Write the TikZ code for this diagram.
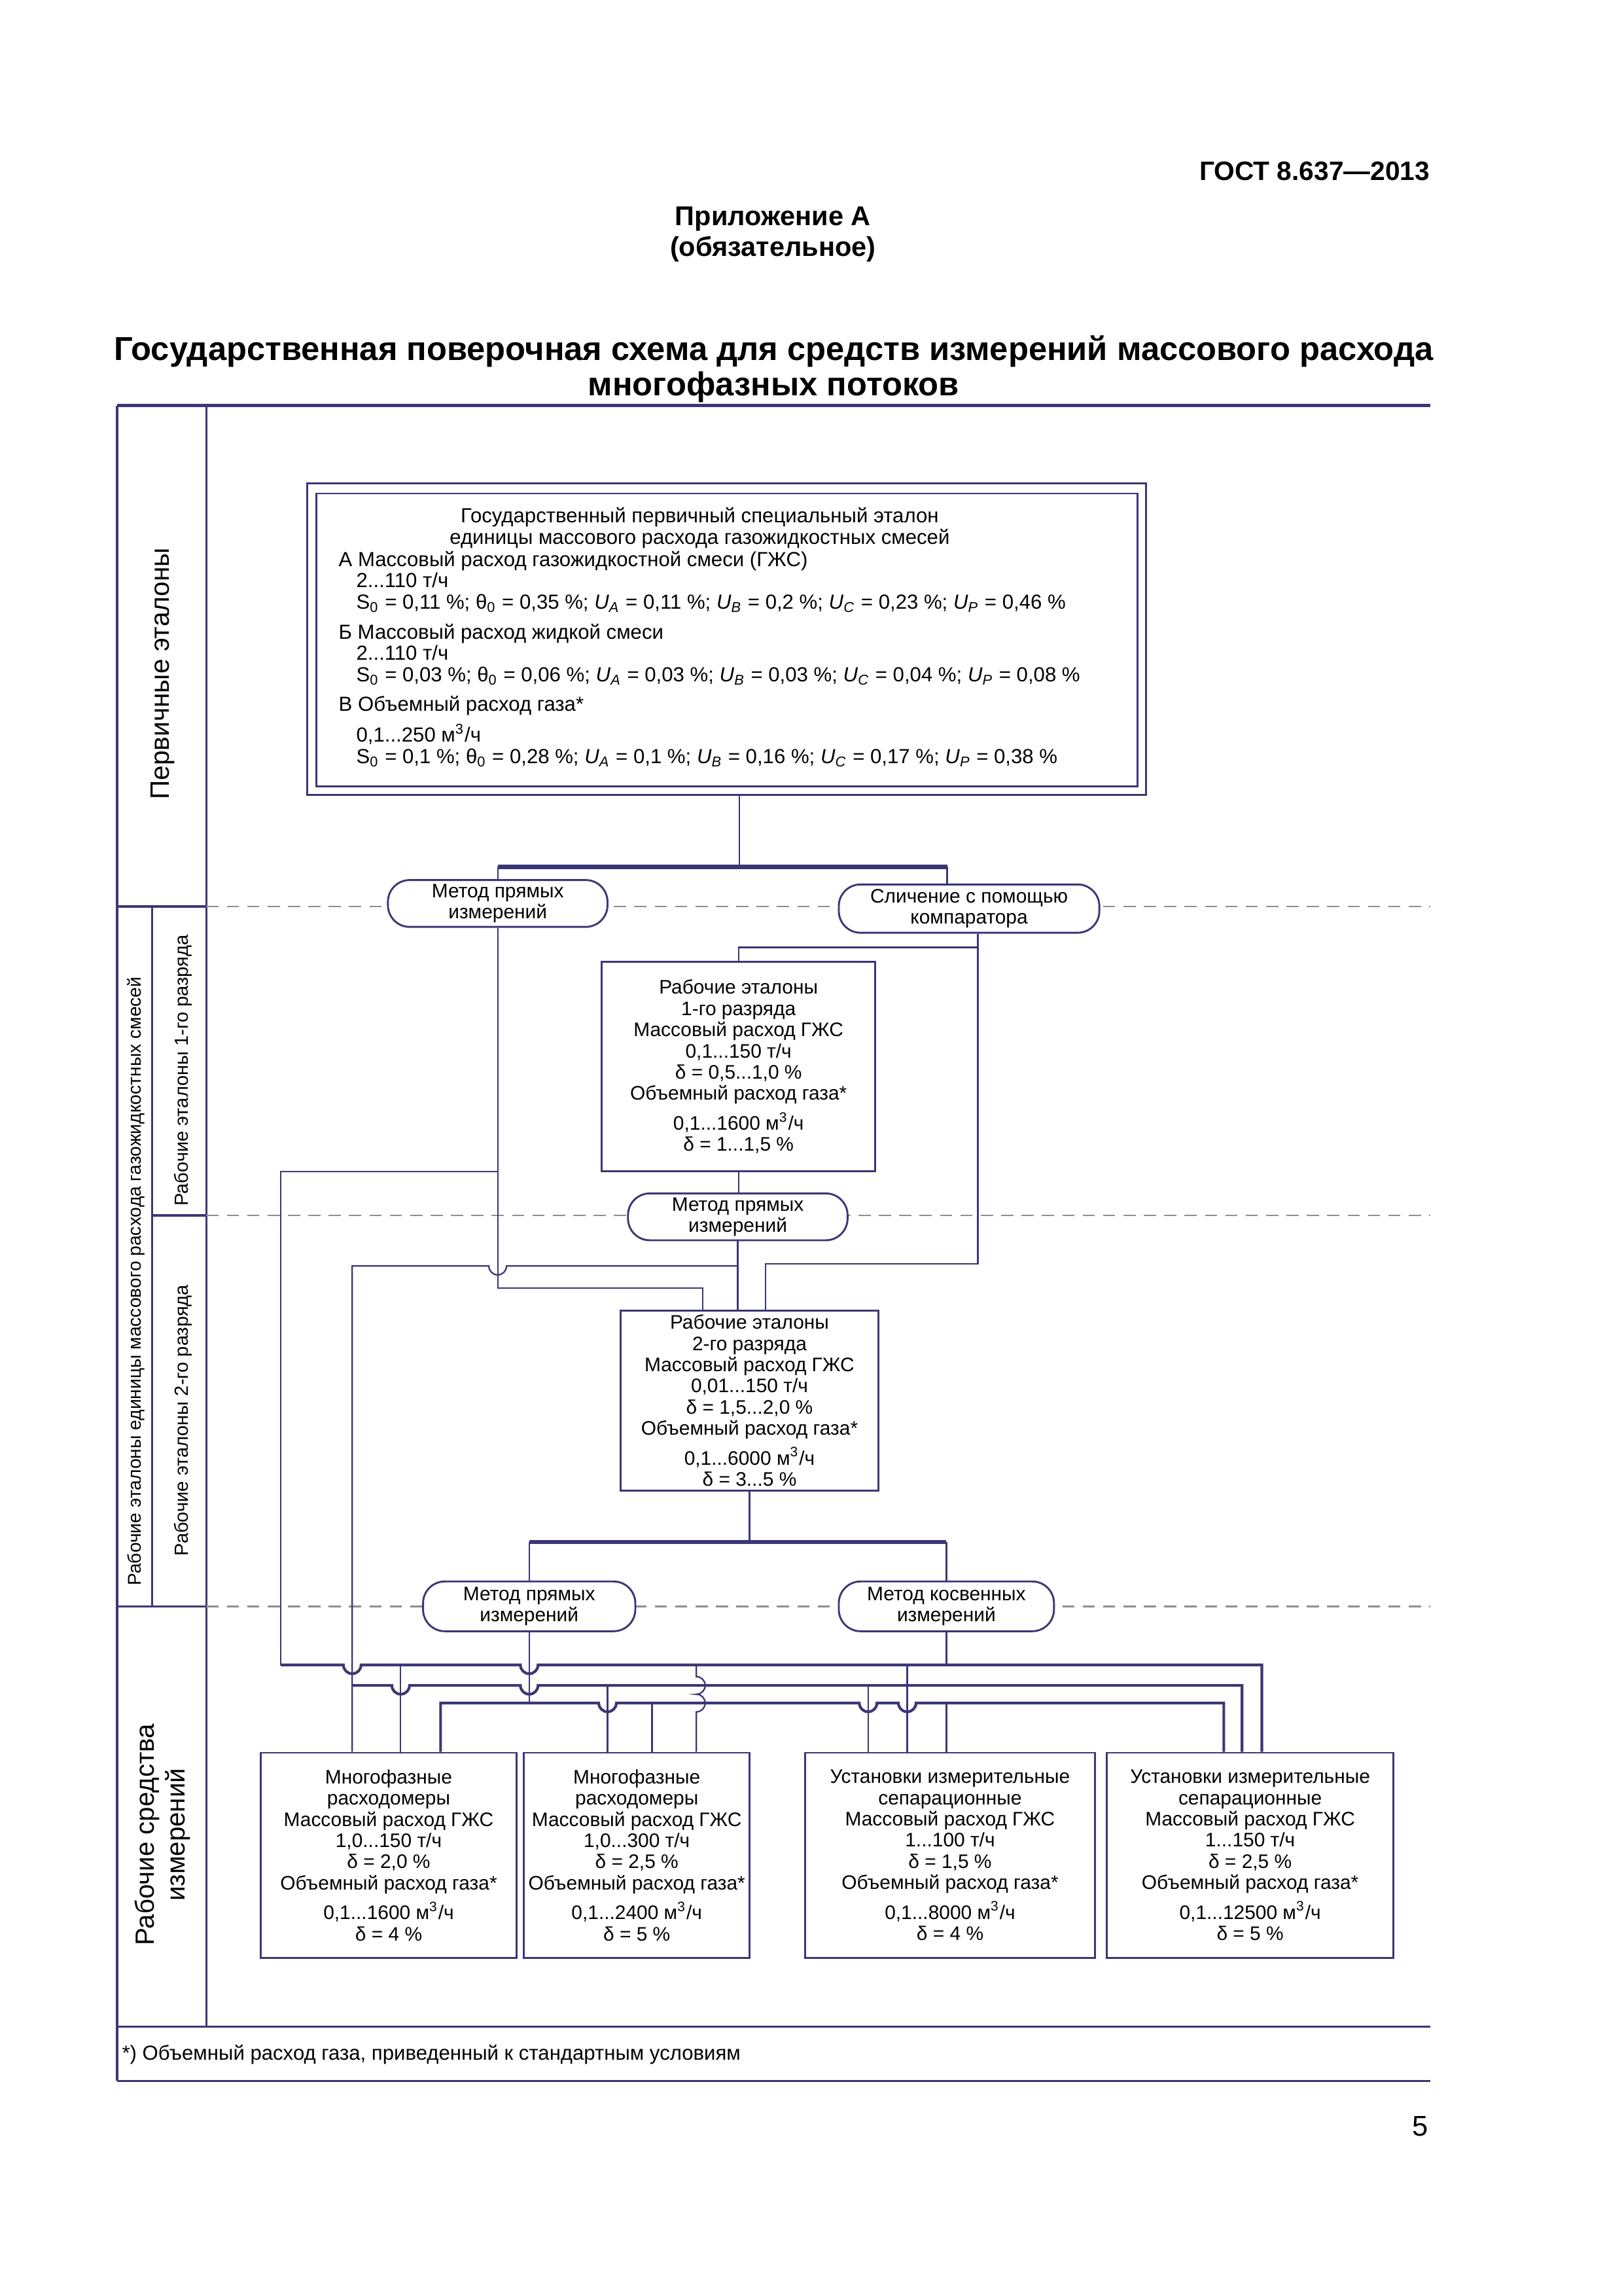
\documentclass[tikz,border=0pt]{standalone}
\usepackage{fontspec}
\setmainfont{Liberation Sans}
\usepackage{xcolor}

\definecolor{lineNavy}{HTML}{3B3776}
\definecolor{dashGray}{HTML}{8E8E8E}

\newcommand{\unc}[1]{\textit{U}\textsubscript{\textit{#1}}}
\newcommand{\mcub}{м\textsuperscript{3}/ч}
\newcommand{\jr}{0.114cm}

\tikzset{
  sz/.style 2 args={minimum width={#1*0.01894cm}, minimum height={#2*0.01894cm}},
  stdbox/.style={draw=lineNavy, line width=0.7pt, fill=white, inner sep=0pt, align=center,
                 font=\fontsize{7.2}{7.8}\selectfont},
  method/.style={draw=lineNavy, line width=0.7pt, fill=white, inner sep=0pt, align=center,
                 rounded corners=8pt, font=\fontsize{7.2}{7.8}\selectfont},
  conn/.style={draw=lineNavy, line width=0.55pt},
  bus/.style={draw=lineNavy, line width=1pt},
  bar/.style={draw=lineNavy, line width=1.5pt},
  level/.style={draw=dashGray, line width=0.6pt, dash pattern=on 4.5pt off 3pt},
  frame/.style={draw=lineNavy, line width=0.8pt},
  sidelabel/.style={rotate=90, align=center, inner sep=0pt},
}

\begin{document}
\begin{tikzpicture}[x=0.01894cm, y=-0.01894cm]
\useasboundingbox (0,0) rectangle (1109,1568);

% page head
\node[anchor=east, inner sep=0pt, font=\bfseries\fontsize{9.8}{12}\selectfont] (gost) at (977,117) {ГОСТ 8.637—2013};
\node[align=center, font=\bfseries\fontsize{10}{11.3}\selectfont] (annex) at (528,160) {Приложение А\\(обязательное)};
\node[align=center, font=\bfseries\fontsize{12.2}{12.9}\selectfont] (title) at (528.5,252)
  {Государственная поверочная схема для средств измерений массового расхода\\многофазных потоков};

% table frame
\draw[frame, line width=1.1pt] (80,277) -- (977,277);
\draw[frame] (80,277) -- (80,1421);
\draw[frame] (141,277) -- (141,1384);
\draw[frame] (104,619) -- (104,1097);
\draw[frame] (80,619) -- (141,619);
\draw[frame] (104,830) -- (141,830);
\draw[frame] (80,1097) -- (141,1097);
\draw[frame] (80,1384) -- (977,1384);
\draw[frame] (80,1421) -- (977,1421);
\draw[level] (141,619) -- (977,619);
\draw[level] (141,830) -- (977,830);
\draw[level] (141,1097) -- (977,1097);

% side labels
\node[sidelabel, font=\fontsize{9.8}{12}\selectfont] (lPrim) at (111,460) {Первичные эталоны};
\node[sidelabel, font=\fontsize{6.8}{8}\selectfont] (lWork) at (93,875) {Рабочие эталоны единицы массового расхода газожидкостных смесей};
\node[sidelabel, font=\fontsize{7}{8}\selectfont] (lFirst) at (125,731) {Рабочие эталоны 1-го разряда};
\node[sidelabel, font=\fontsize{7}{8}\selectfont] (lSecond) at (125,970) {Рабочие эталоны 2-го разряда};
\node[sidelabel, font=\fontsize{9.7}{11.5}\selectfont] (lMeans) at (111,1253) {Рабочие средства\\измерений};

% primary standard
\node[stdbox, sz={573}{213}] (prim) at (496.5,436.5) {};
\node[stdbox, sz={561}{200}] (primIn) at (496.5,437) {};
\node[align=center, font=\fontsize{7.5}{7.9}\selectfont] (primHead) at (478,360.5)
  {Государственный первичный специальный эталон\\единицы массового расхода газожидкостных смесей};
\node[anchor=north west, align=left, inner sep=0pt, font=\fontsize{7.5}{7.9}\selectfont] (primBody) at (231,376)
  {А Массовый расход газожидкостной смеси (ГЖС)\\
   \hspace*{6.5pt}2...110 т/ч\\
   \hspace*{6.5pt}S\textsubscript{0} = 0,11 \%; θ\textsubscript{0} = 0,35 \%; \unc{A} = 0,11 \%; \unc{B} = 0,2 \%; \unc{C} = 0,23 \%; \unc{P} = 0,46 \%\\[3pt]
   Б Массовый расход жидкой смеси\\
   \hspace*{6.5pt}2...110 т/ч\\
   \hspace*{6.5pt}S\textsubscript{0} = 0,03 \%; θ\textsubscript{0} = 0,06 \%; \unc{A} = 0,03 \%; \unc{B} = 0,03 \%; \unc{C} = 0,04 \%; \unc{P} = 0,08 \%\\[3pt]
   В Объемный расход газа*\\[2pt]
   \hspace*{6.5pt}0,1...250 \mcub\\
   \hspace*{6.5pt}S\textsubscript{0} = 0,1 \%; θ\textsubscript{0} = 0,28 \%; \unc{A} = 0,1 \%; \unc{B} = 0,16 \%; \unc{C} = 0,17 \%; \unc{P} = 0,38 \%};

% methods and working standards
\node[method, sz={150}{32}] (cmpA) at (340,617) {Метод прямых\\измерений};
\node[method, sz={178}{33}] (cmpB) at (662,620.5) {Сличение с помощью\\компаратора};
\node[stdbox, sz={187}{143}] (wsA) at (504.5,728.5) {Рабочие эталоны\\1-го разряда\\Массовый расход ГЖС\\0,1...150 т/ч\\δ = 0,5...1,0 \%\\Объемный расход газа*\\[2pt]0,1...1600 \mcub\\δ = 1...1,5 \%};
\node[method, sz={150}{32}] (dirB) at (504,831) {Метод прямых\\измерений};
\node[stdbox, sz={176}{123}] (wsB) at (512,956.5) {Рабочие эталоны\\2-го разряда\\Массовый расход ГЖС\\0,01...150 т/ч\\δ = 1,5...2,0 \%\\Объемный расход газа*\\[2pt]0,1...6000 \mcub\\δ = 3...5 \%};
\node[method, sz={145}{34}] (dirC) at (361.5,1097) {Метод прямых\\измерений};
\node[method, sz={147}{34}] (indC) at (646.5,1097) {Метод косвенных\\измерений};

% working measuring instruments
\node[stdbox, sz={175}{140}] (mfA) at (265.5,1267) {Многофазные\\расходомеры\\Массовый расход ГЖС\\1,0...150 т/ч\\δ = 2,0 \%\\Объемный расход газа*\\[2pt]0,1...1600 \mcub\\δ = 4 \%};
\node[stdbox, sz={154}{140}] (mfB) at (435,1267) {Многофазные\\расходомеры\\Массовый расход ГЖС\\1,0...300 т/ч\\δ = 2,5 \%\\Объемный расход газа*\\[2pt]0,1...2400 \mcub\\δ = 5 \%};
\node[stdbox, sz={198}{140}] (sepA) at (649,1267) {Установки измерительные\\сепарационные\\Массовый расход ГЖС\\1...100 т/ч\\δ = 1,5 \%\\Объемный расход газа*\\[2pt]0,1...8000 \mcub\\δ = 4 \%};
\node[stdbox, sz={196}{140}] (sepB) at (854,1267) {Установки измерительные\\сепарационные\\Массовый расход ГЖС\\1...150 т/ч\\δ = 2,5 \%\\Объемный расход газа*\\[2pt]0,1...12500 \mcub\\δ = 5 \%};

% upper connectors
\coordinate (kA) at (340,592);
\coordinate (kB) at (647,592);
\coordinate (kC) at (361.5,1053);
\coordinate (kD) at (646.5,1053);
\draw[conn] (prim.south -| 505,0) -- (505,592);
\draw[bar] (kA) -- (kB);
\draw[conn] (kA) -- (cmpA.north);
\draw[conn] (kB) -- (kB |- cmpB.north);
\draw[conn] (cmpB.south -| 668,0) -- (668,863) -- (523,863) -- (wsB.north -| 523,0);
\draw[conn] (668,647) -- (wsA.north |- 0,647) -- (wsA.north);
\draw[conn] (wsA.south) -- (wsA.south |- dirB.north);
\draw[conn] (dirB.south) -- (dirB.south |- wsB.north);
\draw[conn] (cmpA.south) -- (cmpA.south |- 0,879.5) -- (480,879.5) -- (wsB.north -| 480,0);
\draw[conn] (dirB.south |- 0,864.6) -- (346,864.6) arc[start angle=0, end angle=-180, radius=\jr]
  -- (240.6,864.6) -- (mfA.north -| 240.6,0);
\draw[conn] (cmpA.south |- 0,800) -- (191.6,800) -- (191.6,1137);
\draw[conn] (wsB.south) -- (wsB.south |- kC);
\draw[bar] (kC) -- (kD);
\draw[conn] (kC) -- (dirC.north);
\draw[conn] (kD) -- (indC.north);

% lower buses
\draw[bus] (191.6,1137) -- (234.6,1137) arc[start angle=180, end angle=360, radius=\jr]
  -- (355.5,1137) arc[start angle=180, end angle=360, radius=\jr]
  -- (862,1137) -- (sepB.north -| 862,0);
\draw[bus] (240.6,1151) -- (267.7,1151) arc[start angle=180, end angle=360, radius=\jr]
  -- (355.5,1151) arc[start angle=180, end angle=360, radius=\jr]
  -- (848.5,1151) -- (sepB.north -| 848.5,0);
\draw[bus] (mfA.north -| 301,0) -- (301,1163) -- (409,1163) arc[start angle=180, end angle=360, radius=\jr]
  -- (587,1163) arc[start angle=180, end angle=360, radius=\jr]
  -- (613.7,1163) arc[start angle=180, end angle=360, radius=\jr]
  -- (836,1163) -- (sepB.north -| 836,0);
\draw[conn] (dirC.south) -- (dirC.south |- 0,1163);
\draw[conn] (indC.south) -- (indC.south |- 0,1137);
\draw[conn] (273.7,1137) -- (mfA.north -| 273.7,0);
\draw[conn] (415,1151) -- (mfB.north -| 415,0);
\draw[conn] (445.4,1163) -- (mfB.north -| 445.4,0);
\draw[conn] (475.7,1137) -- (475.7,1145) arc[start angle=90, end angle=-90, radius=\jr]
  arc[start angle=90, end angle=-90, radius=\jr] -- (mfB.north -| 475.7,0);
\draw[conn] (593,1151) -- (sepA.north -| 593,0);
\draw[conn] (619.7,1137) -- (sepA.north -| 619.7,0);
\draw[conn] (646.5,1163) -- (sepA.north -| 646.5,0);

% footnote and page number
\node[anchor=west, inner sep=0pt, font=\fontsize{7.5}{9}\selectfont] (fnote) at (83,1403)
  {*) Объемный расход газа, приведенный к стандартным условиям};
\node[font=\fontsize{10.5}{12}\selectfont] (pageNo) at (970,1452) {5};
\end{tikzpicture}
\end{document}
